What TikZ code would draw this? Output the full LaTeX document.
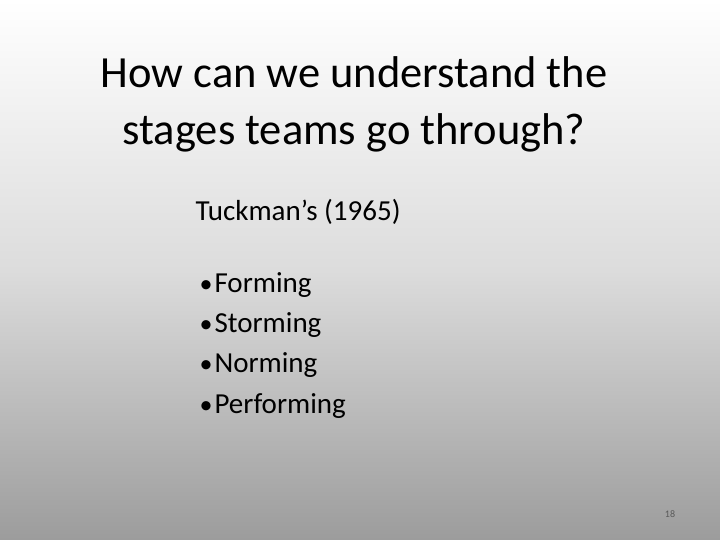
\documentclass[tikz,border=0pt]{standalone}
\usepackage{fontspec}
\setmainfont{Carlito}
\definecolor{bot}{HTML}{9C9C9C}
\definecolor{mid}{HTML}{DCDCDC}
\begin{document}
\begin{tikzpicture}[x=1pt,y=-1pt,
  title/.style={font=\fontsize{44.5}{57}\selectfont,align=center,anchor=center},
  body/.style={font=\fontsize{29}{30}\selectfont,anchor=base west},
  bul/.style={font=\fontsize{26}{28}\selectfont,anchor=base west}]
\shade[top color=white,bottom color=bot,middle color=mid] (0,0) rectangle (720,540);
\useasboundingbox (0,0) rectangle (720,540);
\node[title] (t) at (354,104) {How can we understand the\\stages teams go through?};
\node[body] (h) at (192,221) {Tuckman’s (1965)};
\foreach \y/\w [count=\i] in {292/Forming,332/Storming,372/Norming,413/Performing}{
  \node[bul] (b\i) at (196,\y) {•};
  \node[body] (w\i) at (211,\y) {\w};
}
\node[font=\fontsize{10}{12}\selectfont,text=gray!70!black] (n) at (670,514) {18};
\end{tikzpicture}
\end{document}
